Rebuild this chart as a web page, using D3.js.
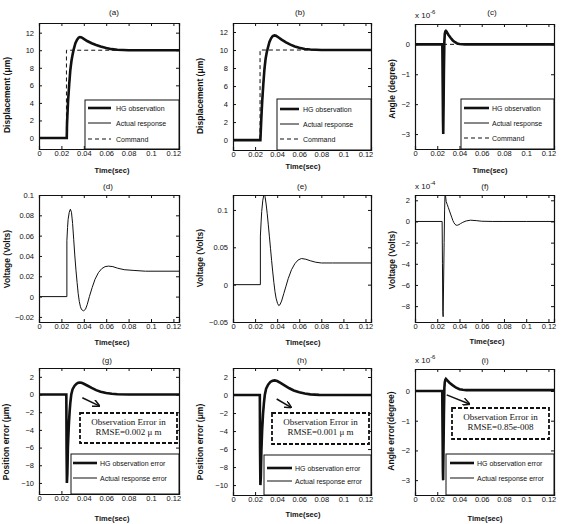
<!DOCTYPE html>
<html>
<head>
<meta charset="utf-8">
<script src="https://cdn.jsdelivr.net/npm/d3@7"></script>
<style>
  body { margin: 0; background: #fff; }
  svg { display: block; }
  text { font-family: "Liberation Sans", Arial, sans-serif; fill: #111; }
  .tick text { font-size: 7.5px; }
  .axis path, .axis line { stroke: #111; }
</style>
</head>
<body>
<div id="chart"></div>
<script>
// Data
//-------------------------------------------------------
var xTicks = [0, 0.02, 0.04, 0.06, 0.08, 0.1, 0.12];

// (a) displacement
var timeA   = [0, 0.0248, 0.025, 0.0255, 0.026, 0.027, 0.028, 0.029, 0.030, 0.031, 0.0325, 0.034, 0.0355, 0.0365, 0.038, 0.040, 0.043, 0.047, 0.051, 0.055, 0.060, 0.065, 0.070, 0.080, 0.100, 0.125];
var hgA     = [0, 0, 1.5, 3.0, 4.3, 6.2, 7.8, 8.8, 9.5, 10.1, 10.8, 11.2, 11.45, 11.5, 11.45, 11.3, 11.05, 10.8, 10.6, 10.42, 10.25, 10.12, 10.05, 10.0, 10.0, 10.0];
var actualA = [0, 0, 1.2, 2.7, 4.0, 6.0, 7.6, 8.7, 9.45, 10.05, 10.75, 11.18, 11.44, 11.5, 11.46, 11.32, 11.07, 10.82, 10.6, 10.42, 10.25, 10.12, 10.05, 10.0, 10.0, 10.0];
var cmdTime = [0, 0.0245, 0.0245, 0.125];
var cmdDisp = [0, 0, 10, 10];
var cmdZero = [0, 0, 0, 0];

// (b) displacement
var timeB   = [0, 0.0248, 0.0253, 0.0258, 0.0265, 0.0275, 0.0285, 0.0295, 0.0305, 0.0315, 0.033, 0.0345, 0.036, 0.0375, 0.039, 0.041, 0.044, 0.048, 0.052, 0.056, 0.060, 0.065, 0.070, 0.080, 0.100, 0.125];
var hgB     = [0, 0, 1.4, 2.8, 4.4, 6.3, 7.9, 9.0, 9.7, 10.2, 10.9, 11.3, 11.55, 11.62, 11.58, 11.42, 11.15, 10.85, 10.6, 10.4, 10.25, 10.12, 10.05, 10.0, 10.0, 10.0];
var actualB = [0, 0, 1.1, 2.5, 4.1, 6.1, 7.7, 8.9, 9.65, 10.15, 10.85, 11.28, 11.54, 11.62, 11.58, 11.42, 11.15, 10.85, 10.6, 10.4, 10.25, 10.12, 10.05, 10.0, 10.0, 10.0];

// (c) angle, x 1e-6
var timeC   = [0, 0.0246, 0.0249, 0.0252, 0.0254, 0.0257, 0.026, 0.0264, 0.0268, 0.0273, 0.0278, 0.0285, 0.029, 0.030, 0.032, 0.034, 0.036, 0.038, 0.040, 0.045, 0.05, 0.06, 0.08, 0.1, 0.125];
var hgC     = [0, 0, -1.3, -2.6, -3.0, -2.0, -0.9, 0.1, 0.35, 0.43, 0.45, 0.42, 0.38, 0.32, 0.22, 0.13, 0.07, 0.03, 0.01, 0, 0, 0, 0, 0, 0];
var actualC = [0, 0, -1.2, -2.5, -3.0, -2.1, -1.0, 0.0, 0.32, 0.42, 0.45, 0.43, 0.39, 0.33, 0.22, 0.13, 0.07, 0.03, 0.01, 0, 0, 0, 0, 0, 0];

// (d) voltage
var timeD = [0, 0.0249, 0.0249, 0.0255, 0.026, 0.027, 0.028, 0.029, 0.030, 0.031, 0.032, 0.033, 0.034, 0.035, 0.036, 0.037, 0.038, 0.0398, 0.0415, 0.043, 0.045, 0.0475, 0.050, 0.053, 0.056, 0.059, 0.062, 0.066, 0.070, 0.076, 0.084, 0.095, 0.125];
var voltD = [0, 0, 0.055, 0.068, 0.076, 0.083, 0.086, 0.083, 0.072, 0.056, 0.040, 0.026, 0.014, 0.003, -0.005, -0.010, -0.0128, -0.014, -0.0125, -0.008, 0.000, 0.009, 0.017, 0.0235, 0.0275, 0.0295, 0.030, 0.0295, 0.028, 0.0265, 0.0258, 0.025, 0.025];

// (e) voltage
var timeE = [0, 0.0248, 0.0248, 0.0255, 0.026, 0.027, 0.0278, 0.0284, 0.029, 0.030, 0.031, 0.032, 0.033, 0.034, 0.035, 0.036, 0.037, 0.038, 0.039, 0.0403, 0.0414, 0.0425, 0.044, 0.046, 0.048, 0.050, 0.053, 0.056, 0.059, 0.062, 0.066, 0.070, 0.075, 0.080, 0.090, 0.125];
var voltE = [0, 0, 0.065, 0.085, 0.098, 0.113, 0.119, 0.12, 0.118, 0.108, 0.095, 0.080, 0.064, 0.048, 0.032, 0.017, 0.003, -0.009, -0.018, -0.025, -0.028, -0.027, -0.022, -0.012, -0.002, 0.008, 0.020, 0.028, 0.033, 0.035, 0.034, 0.032, 0.030, 0.029, 0.029, 0.029];

// (f) voltage, x 1e-4
var timeF = [0, 0.0244, 0.0247, 0.025, 0.0253, 0.0257, 0.0262, 0.0266, 0.027, 0.0275, 0.028, 0.029, 0.030, 0.031, 0.032, 0.033, 0.034, 0.035, 0.036, 0.037, 0.038, 0.0395, 0.041, 0.043, 0.046, 0.050, 0.055, 0.060, 0.07, 0.08, 0.1, 0.125];
var voltF = [0, 0, -4, -8.5, -9.0, -6, -2, 1.0, 2.6, 2.4, 1.9, 1.6, 1.3, 1.0, 0.7, 0.4, 0.1, -0.12, -0.27, -0.35, -0.36, -0.3, -0.2, -0.08, 0.05, 0.12, 0.08, 0.02, 0, 0, 0, 0];

// (g) position error
var timeG   = [0, 0.0244, 0.0246, 0.0249, 0.0253, 0.0258, 0.0265, 0.0273, 0.028, 0.0288, 0.030, 0.0318, 0.0335, 0.035, 0.0363, 0.038, 0.040, 0.043, 0.047, 0.051, 0.055, 0.060, 0.065, 0.070, 0.080, 0.1, 0.125];
var hgG     = [0, 0, -6, -10, -9.0, -6.0, -3.8, -2.0, -0.9, 0, 0.6, 1.0, 1.22, 1.33, 1.36, 1.33, 1.22, 1.02, 0.75, 0.5, 0.32, 0.17, 0.08, 0.03, 0, 0, 0];
var actualG = [0, 0, -5, -9.6, -9.3, -6.4, -4.0, -2.2, -1.0, -0.1, 0.55, 0.98, 1.2, 1.32, 1.36, 1.33, 1.22, 1.02, 0.75, 0.5, 0.32, 0.17, 0.08, 0.03, 0, 0, 0];

// (h) position error
var timeH   = [0, 0.0243, 0.0245, 0.0248, 0.0252, 0.0257, 0.0264, 0.0272, 0.028, 0.0288, 0.030, 0.0318, 0.0338, 0.0358, 0.0378, 0.040, 0.043, 0.047, 0.051, 0.055, 0.060, 0.065, 0.070, 0.078, 0.1, 0.125];
var hgH     = [0, 0, -6, -10, -9.2, -6.2, -3.9, -2.1, -0.9, 0, 0.7, 1.15, 1.45, 1.58, 1.62, 1.55, 1.35, 1.05, 0.75, 0.5, 0.3, 0.16, 0.07, 0.02, 0, 0];
var actualH = [0, 0, -5, -9.7, -9.4, -6.5, -4.1, -2.3, -1.0, -0.1, 0.65, 1.12, 1.44, 1.58, 1.62, 1.55, 1.35, 1.05, 0.75, 0.5, 0.3, 0.16, 0.07, 0.02, 0, 0];

// (i) angle error, x 1e-6
var timeI   = [0, 0.0245, 0.0248, 0.0251, 0.0253, 0.0256, 0.026, 0.0264, 0.0268, 0.0273, 0.0278, 0.029, 0.031, 0.034, 0.037, 0.040, 0.043, 0.046, 0.05, 0.06, 0.08, 0.1, 0.125];
var hgI     = [0, 0, -1.4, -2.7, -3.0, -2.0, -0.8, 0.1, 0.3, 0.38, 0.41, 0.36, 0.28, 0.19, 0.11, 0.06, 0.04, 0.03, 0.03, 0.03, 0.03, 0.03, 0.03];
var actualI = [0, 0, -1.3, -2.6, -3.0, -2.1, -0.9, 0.0, 0.28, 0.37, 0.41, 0.36, 0.28, 0.19, 0.11, 0.06, 0.04, 0.03, 0.03, 0.03, 0.03, 0.03, 0.03];

// Annotation arrows (data coords: start t, start y, tip t, tip y)
var arrowG = [0.0387, -0.37, 0.0538, -1.28];
var arrowH = [0.0396, -0.44, 0.0525, -1.37];
var arrowI = [0.0285, -0.13, 0.0489, -0.44];

var legendDisp  = ["HG observation", "Actual response", "Command"];
var legendError = ["HG observation error", "Actual response error"];

// Panel layout (pixels)
//-------------------------------------------------------
var panels = [
  { tag: "(a)", box: [39, 179, 23, 149], yDom: [-1.25, 13.1], yTicks: [0, 2, 4, 6, 8, 10, 12],
    ylabel: "Displacement (\u03bcm)", title: [114, 12], xlab: [112, 170], ylab: [7, 95],
    lines: [[timeA, hgA, "hg"], [timeA, actualA, "act"], [cmdTime, cmdDisp, "cmd"]],
    legend: { names: legendDisp, box: [85, 179, 100, 149], rows: [108, 123, 139], line: [88, 111], text: 116 } },
  { tag: "(b)", box: [233, 371, 23, 150], yDom: [-1.1, 13], yTicks: [0, 2, 4, 6, 8, 10, 12],
    ylabel: "Displacement (\u03bcm)", title: [300, 12], xlab: [303, 166], ylab: [200, 96],
    lines: [[timeB, hgB, "hg"], [timeB, actualB, "act"], [cmdTime, cmdDisp, "cmd"]],
    legend: { names: legendDisp, box: [277, 371, 99, 150], rows: [109, 124, 139], line: [280, 299], text: 303 } },
  { tag: "(c)", box: [415, 554, 24, 149], yDom: [-3.5, 0.68], yTicks: [-3, -2, -1, 0], exp: "-6",
    ylabel: "Angle (degree)", title: [492, 12], xlab: [490, 170], ylab: [392, 89],
    lines: [[cmdTime, cmdZero, "cmd"], [timeC, hgC, "hg"], [timeC, actualC, "act"]],
    legend: { names: legendDisp, box: [461, 554, 99, 149], rows: [108, 123, 138], line: [464, 489], text: 492 } },
  { tag: "(d)", box: [39, 179, 195, 322], yDom: [-0.025, 0.1], yTicks: [-0.02, 0, 0.02, 0.04, 0.06, 0.08, 0.1],
    ylabel: "Voltage (Volts)", title: [108, 186], xlab: [112, 342], ylab: [7, 259],
    lines: [[timeD, voltD, "act"]] },
  { tag: "(e)", box: [233, 371, 195, 322], yDom: [-0.05, 0.12], yTicks: [-0.05, 0, 0.05, 0.1],
    ylabel: "Voltage (Volts)", title: [302, 186], xlab: [303, 342], ylab: [200, 258],
    lines: [[timeE, voltE, "act"]] },
  { tag: "(f)", box: [415, 554, 195, 322], yDom: [-9.5, 2.5], yTicks: [-8, -6, -4, -2, 0, 2], exp: "-4",
    ylabel: "Voltage (Volts)", title: [485, 186], xlab: [487, 341], ylab: [392, 260],
    lines: [[timeF, voltF, "act"]] },
  { tag: "(g)", box: [39, 179, 368, 494], yDom: [-11.25, 3], yTicks: [-10, -8, -6, -4, -2, 0, 2],
    ylabel: "Position error (\u03bcm)", title: [107, 360], xlab: [112, 518], ylab: [6, 442],
    lines: [[timeG, hgG, "hg"], [timeG, actualG, "act"]], arrow: arrowG,
    note: { box: [80, 177, 413, 443], lines: ["Observation Error in", "RMSE=0.002 \u03bc m"] },
    legend: { names: legendError, box: [71, 179, 454, 494], rows: [463, 478], line: [73, 97], text: 100 } },
  { tag: "(h)", box: [233, 371, 368, 495], yDom: [-11.1, 3], yTicks: [-10, -8, -6, -4, -2, 0, 2],
    ylabel: "Position error (\u03bcm)", title: [302, 360], xlab: [303, 514], ylab: [200, 442],
    lines: [[timeH, hgH, "hg"], [timeH, actualH, "act"]], arrow: arrowH,
    note: { box: [272, 369, 413, 444], lines: ["Observation Error in", "RMSE=0.001 \u03bc m"] },
    legend: { names: legendError, box: [264, 371, 455, 495], rows: [468, 481], line: [267, 292], text: 295 } },
  { tag: "(i)", box: [415, 554, 369, 495], yDom: [-3.5, 0.74], yTicks: [-3, -2, -1, 0], exp: "-6",
    ylabel: "Angle error(degree)", title: [485, 360], xlab: [485, 518], ylab: [391, 431],
    lines: [[timeI, hgI, "hg"], [timeI, actualI, "act"]], arrow: arrowI,
    note: { box: [452, 549, 408, 439], lines: ["Observation Error in", "RMSE=0.85e-008"] },
    legend: { names: legendError, box: [446, 554, 454, 495], rows: [463, 478], line: [450, 474], text: 477 } }
];

var styles = {
  hg:  { width: 2.6, dash: null },
  act: { width: 1,   dash: null },
  cmd: { width: 1,   dash: "4,3" }
};

// SVG
//-------------------------------------------------------
var svg = d3.select("#chart").append("svg")
  .attr("width", 561)
  .attr("height", 524);

svg.append("defs").append("marker")
  .attr("id", "head")
  .attr("viewBox", "0 0 10 10")
  .attr("refX", 9).attr("refY", 5)
  .attr("markerWidth", 5).attr("markerHeight", 5)
  .attr("orient", "auto")
  .append("path")
  .attr("d", "M0,0 L10,5 L0,10")
  .attr("fill", "none")
  .attr("stroke", "#111")
  .attr("stroke-width", 2);

panels.forEach(function(p, i) {
  var x = d3.scaleLinear().domain([0, 0.125]).range([p.box[0], p.box[1]]);
  var y = d3.scaleLinear().domain(p.yDom).range([p.box[3], p.box[2]]);
  var g = svg.append("g");

  var clipId = "clip" + i;
  svg.select("defs").append("clipPath").attr("id", clipId)
    .append("rect")
    .attr("x", p.box[0]).attr("y", p.box[2])
    .attr("width", p.box[1] - p.box[0]).attr("height", p.box[3] - p.box[2]);

  // axes, ticks inward on all four sides
  g.append("g").attr("class", "axis")
    .attr("transform", "translate(0," + p.box[3] + ")")
    .call(d3.axisBottom(x).tickValues(xTicks).tickSize(-3).tickPadding(2).tickFormat(d3.format("~g")));
  g.append("g").attr("class", "axis")
    .attr("transform", "translate(0," + p.box[2] + ")")
    .call(d3.axisTop(x).tickValues(xTicks).tickSize(-3).tickFormat(""));
  g.append("g").attr("class", "axis")
    .attr("transform", "translate(" + p.box[0] + ",0)")
    .call(d3.axisLeft(y).tickValues(p.yTicks).tickSize(-3).tickPadding(5).tickFormat(d3.format("~g")));
  g.append("g").attr("class", "axis")
    .attr("transform", "translate(" + p.box[1] + ",0)")
    .call(d3.axisRight(y).tickValues(p.yTicks).tickSize(-3).tickFormat(""));

  g.selectAll(".axis path").attr("stroke-width", 1.2);

  // curves
  var plot = g.append("g").attr("clip-path", "url(#" + clipId + ")");
  p.lines.forEach(function(s) {
    var pts = d3.zip(s[0], s[1]);
    var st = styles[s[2]];
    plot.append("path")
      .attr("d", d3.line().x(d => x(d[0])).y(d => y(d[1]))(pts))
      .attr("fill", "none")
      .attr("stroke", "#111")
      .attr("stroke-width", st.width)
      .attr("stroke-dasharray", st.dash);
  });

  // annotation arrow + dashed note box
  if (p.arrow) {
    g.append("line")
      .attr("x1", x(p.arrow[0])).attr("y1", y(p.arrow[1]))
      .attr("x2", x(p.arrow[2])).attr("y2", y(p.arrow[3]))
      .attr("stroke", "#111").attr("stroke-width", 1.5)
      .attr("marker-end", "url(#head)");
  }
  if (p.note) {
    var nb = p.note.box;
    g.append("rect")
      .attr("x", nb[0]).attr("y", nb[2])
      .attr("width", nb[1] - nb[0]).attr("height", nb[3] - nb[2])
      .attr("fill", "#fff").attr("stroke", "#111")
      .attr("stroke-width", 1.8).attr("stroke-dasharray", "4,2");
    p.note.lines.forEach(function(t, k) {
      g.append("text")
        .attr("x", (nb[0] + nb[1]) / 2)
        .attr("y", nb[2] + 12 + k * 10)
        .attr("text-anchor", "middle")
        .style("font-family", "'Liberation Serif', 'Times New Roman', serif")
        .style("font-size", "9px")
        .text(t);
    });
  }

  // legend
  if (p.legend) {
    var L = p.legend;
    g.append("rect")
      .attr("x", L.box[0]).attr("y", L.box[2])
      .attr("width", L.box[1] - L.box[0]).attr("height", L.box[3] - L.box[2])
      .attr("fill", "#fff").attr("stroke", "#111").attr("stroke-width", 1);
    var keys = ["hg", "act", "cmd"];
    L.names.forEach(function(name, k) {
      var st = styles[keys[k]];
      g.append("line")
        .attr("x1", L.line[0]).attr("x2", L.line[1])
        .attr("y1", L.rows[k]).attr("y2", L.rows[k])
        .attr("stroke", "#111").attr("stroke-width", st.width)
        .attr("stroke-dasharray", st.dash);
      g.append("text")
        .attr("x", L.text).attr("y", L.rows[k] + 2.5)
        .style("font-size", "7px")
        .text(name);
    });
  }

  // labels
  g.append("text")
    .attr("x", p.title[0]).attr("y", p.title[1] + 3)
    .attr("text-anchor", "middle")
    .style("font-size", "8px")
    .text(p.tag);
  g.append("text")
    .attr("x", p.xlab[0]).attr("y", p.xlab[1] + 3)
    .attr("text-anchor", "middle")
    .style("font-size", "7.5px")
    .style("font-weight", "bold")
    .text("Time(sec)");
  g.append("text")
    .attr("transform", "translate(" + (p.ylab[0] + 3) + "," + p.ylab[1] + ") rotate(-90)")
    .attr("text-anchor", "middle")
    .style("font-size", "8.5px")
    .style("font-weight", "bold")
    .text(p.ylabel);

  if (p.exp) {
    var e = g.append("text")
      .attr("x", p.box[0]).attr("y", p.box[2] - 6)
      .style("font-size", "8px")
      .text("x 10");
    e.append("tspan").attr("dy", -4).style("font-size", "6px").text(p.exp);
  }
});
</script>
</body>
</html>
